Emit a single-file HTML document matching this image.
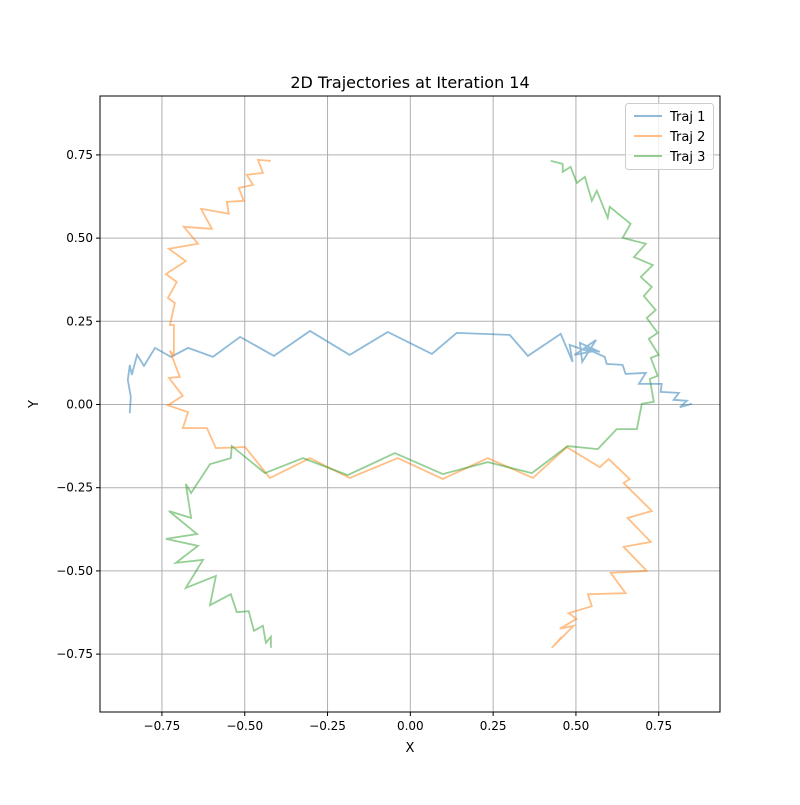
<!DOCTYPE html>
<html><head><meta charset="utf-8"><style>
body{margin:0;background:#fff}
svg text{font-family:"DejaVu Sans","Liberation Sans",sans-serif;fill:#000}
</style></head><body>
<svg id="chart" width="800" height="800" xmlns="http://www.w3.org/2000/svg">
<rect width="800" height="800" fill="#fff"/>
<g id="grid"></g>
<g id="series"></g>
<rect x="100" y="96" width="620" height="616" fill="none" stroke="#000" stroke-width="1"/>
<g id="ticks"></g>
<text x="410" y="88" font-size="16" text-anchor="middle">2D Trajectories at Iteration 14</text>
<text x="410" y="752" font-size="13" text-anchor="middle">X</text>
<text x="38" y="404" font-size="13" text-anchor="middle" transform="rotate(-90 38 404)">Y</text>
<g>
<rect x="625.5" y="103.5" width="88" height="66" rx="3" fill="#fff" fill-opacity="0.8" stroke="#ccc"/>
<g><line x1="634" y1="116" x2="662" y2="116" stroke="#1f77b4" stroke-opacity="0.5" stroke-width="2"/><text x="670" y="121" font-size="13">Traj 1</text></g>
<g><line x1="634" y1="136" x2="662" y2="136" stroke="#ff7f0e" stroke-opacity="0.5" stroke-width="2"/><text x="670" y="141" font-size="13">Traj 2</text></g>
<g><line x1="634" y1="156" x2="662" y2="156" stroke="#2ca02c" stroke-opacity="0.5" stroke-width="2"/><text x="670" y="161" font-size="13">Traj 3</text></g>
</g>
</svg>
<script>
const xTicks=[-0.75,-0.5,-0.25,0,0.25,0.5,0.75];
const yTicks=[-0.75,-0.5,-0.25,0,0.25,0.5,0.75];
const xTickLabels=["−0.75","−0.50","−0.25","0.00","0.25","0.50","0.75"];
const yTickLabels=["−0.75","−0.50","−0.25","0.00","0.25","0.50","0.75"];
const traj1X=[-0.847,-0.844,-0.853,-0.847,-0.841,-0.825,-0.804,-0.771,-0.723,-0.671,-0.596,-0.514,-0.412,-0.303,-0.183,-0.068,0.065,0.140,0.300,0.355,0.454,0.490,0.481,0.542,0.496,0.561,0.519,0.512,0.572,0.527,0.587,0.593,0.641,0.650,0.711,0.690,0.759,0.756,0.811,0.795,0.835,0.814,0.850];
const traj1Y=[-0.026,0.023,0.074,0.119,0.089,0.149,0.116,0.170,0.143,0.170,0.143,0.203,0.146,0.221,0.149,0.218,0.152,0.215,0.209,0.146,0.212,0.128,0.179,0.158,0.149,0.194,0.128,0.185,0.158,0.170,0.143,0.122,0.119,0.092,0.095,0.062,0.062,0.038,0.035,0.014,0.011,-0.008,0.002];
const traj2X=[-0.421,-0.460,-0.445,-0.494,-0.475,-0.518,-0.503,-0.554,-0.548,-0.632,-0.599,-0.684,-0.641,-0.729,-0.678,-0.738,-0.705,-0.732,-0.711,-0.726,-0.714,-0.714,-0.726,-0.696,-0.729,-0.687,-0.732,-0.671,-0.687,-0.614,-0.587,-0.499,-0.424,-0.303,-0.183,-0.038,0.098,0.234,0.370,0.472,0.572,0.599,0.662,0.644,0.729,0.656,0.726,0.644,0.714,0.605,0.650,0.536,0.548,0.478,0.502,0.451,0.493,0.427,0.457,0.430];
const traj2Y=[0.732,0.735,0.696,0.690,0.660,0.651,0.612,0.609,0.573,0.588,0.528,0.534,0.483,0.468,0.431,0.392,0.368,0.320,0.305,0.239,0.239,0.149,0.161,0.083,0.080,0.026,-0.002,-0.023,-0.071,-0.071,-0.131,-0.128,-0.221,-0.161,-0.221,-0.161,-0.224,-0.161,-0.221,-0.128,-0.188,-0.164,-0.224,-0.236,-0.320,-0.341,-0.413,-0.428,-0.500,-0.506,-0.567,-0.570,-0.606,-0.627,-0.644,-0.674,-0.665,-0.731,-0.698,-0.728];
const traj3X=[0.424,0.460,0.460,0.484,0.503,0.527,0.548,0.563,0.596,0.602,0.665,0.641,0.711,0.675,0.732,0.696,0.729,0.705,0.741,0.714,0.747,0.720,0.750,0.726,0.747,0.723,0.735,0.699,0.684,0.623,0.566,0.475,0.367,0.234,0.098,-0.047,-0.189,-0.324,-0.439,-0.539,-0.542,-0.605,-0.662,-0.678,-0.662,-0.729,-0.644,-0.738,-0.641,-0.708,-0.626,-0.678,-0.587,-0.605,-0.542,-0.524,-0.488,-0.472,-0.445,-0.436,-0.421,-0.421];
const traj3Y=[0.732,0.723,0.699,0.714,0.666,0.684,0.612,0.642,0.561,0.594,0.543,0.501,0.483,0.443,0.419,0.383,0.353,0.326,0.284,0.260,0.215,0.197,0.149,0.140,0.086,0.077,0.008,0.002,-0.074,-0.074,-0.134,-0.125,-0.206,-0.173,-0.209,-0.146,-0.212,-0.161,-0.206,-0.125,-0.161,-0.179,-0.266,-0.239,-0.341,-0.320,-0.389,-0.404,-0.425,-0.476,-0.467,-0.551,-0.515,-0.603,-0.570,-0.624,-0.621,-0.680,-0.665,-0.716,-0.698,-0.731];

const NS='http://www.w3.org/2000/svg';
const xMin=-0.937,xMax=0.935,yMin=-0.924,yMax=0.927;
const L=100,R=720,T=96,B=712;
function sx(v){return L+(v-xMin)/(xMax-xMin)*(R-L);}
function sy(v){return B-(v-yMin)/(yMax-yMin)*(B-T);}
function mk(tag,attrs,parent){const e=document.createElementNS(NS,tag);for(const k in attrs)e.setAttribute(k,attrs[k]);parent.appendChild(e);return e;}
const grid=document.getElementById('grid'),ticks=document.getElementById('ticks'),series=document.getElementById('series');
xTicks.forEach((v,i)=>{
 const x=sx(v);
 const g=mk('line',{x1:x,y1:T,x2:x,y2:B,stroke:'#b0b0b0','stroke-width':1},grid);
 
 
 mk('line',{x1:x,y1:B,x2:x,y2:B+4,stroke:'#000'},ticks);
 const t=mk('text',{x:x,y:B+18,'font-size':12,'text-anchor':'middle'},ticks);
 t.textContent=xTickLabels[i];
 
 
});
yTicks.forEach((v,i)=>{
 const y=sy(v);
 const g=mk('line',{x1:L,y1:y,x2:R,y2:y,stroke:'#b0b0b0','stroke-width':1},grid);
 
 
 mk('line',{x1:L-4,y1:y,x2:L,y2:y,stroke:'#000'},ticks);
 const t=mk('text',{x:L-7,y:y+4,'font-size':12,'text-anchor':'end'},ticks);
 t.textContent=yTickLabels[i];
 
 
});
const trajs=[[traj1X,traj1Y,'#1f77b4','traj-1-line'],[traj2X,traj2Y,'#ff7f0e','traj-2-line'],[traj3X,traj3Y,'#2ca02c','traj-3-line']];
trajs.forEach(([xs,ys,c,n])=>{
 const pts=xs.map((x,i)=>sx(x).toFixed(1)+','+sy(ys[i]).toFixed(1)).join(' ');
 const p=mk('polyline',{points:pts,fill:'none',stroke:c,'stroke-opacity':0.5,'stroke-width':1.8,'stroke-linejoin':'miter'},series);
 
 
});
</script>
</body></html>
